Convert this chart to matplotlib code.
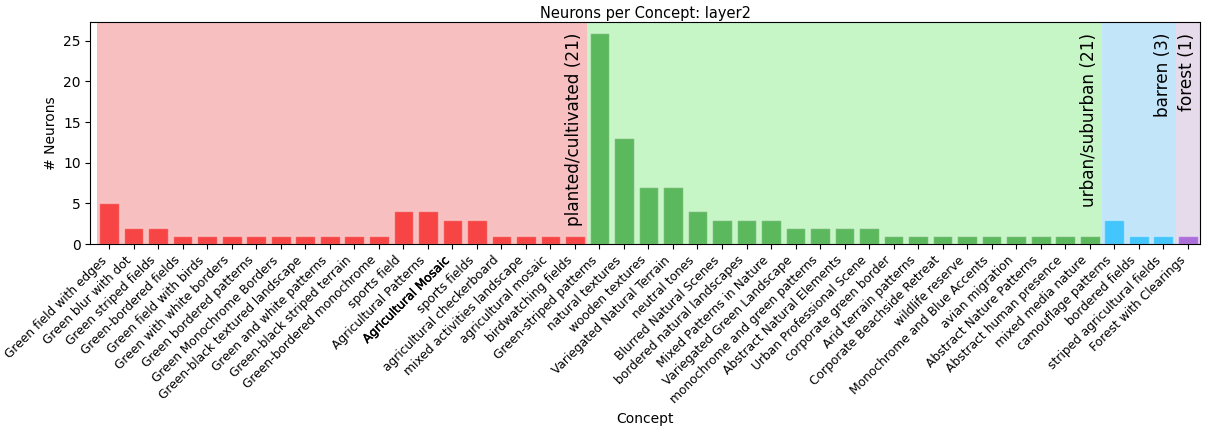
import matplotlib
matplotlib.use("Agg")
import matplotlib.pyplot as plt
import matplotlib.patheffects as pe

# concepts and neuron counts, grouped by category
planted_concepts = [
    "Green field with edges", "Green blur with dot", "Green striped fields",
    "Green-bordered fields", "Green field with birds", "Green with white borders",
    "Green bordered patterns", "Green Monochrome Borders", "Green-black textured landscape",
    "Green and white patterns", "Green-black striped terrain", "Green-bordered monochrome",
    "sports field", "Agricultural Patterns", "Agricultural Mosaic", "sports fields",
    "agricultural checkerboard", "mixed activities landscape", "agricultural mosaic",
    "birdwatching fields",
]
planted_counts = [5, 2, 2, 1, 1, 1, 1, 1, 1, 1, 1, 1, 4, 4, 3, 3, 1, 1, 1, 1]

urban_concepts = [
    "Green-striped patterns", "natural textures", "wooden textures",
    "Variegated Natural Terrain", "neutral tones", "Blurred Natural Scenes",
    "bordered natural landscapes", "Mixed Patterns in Nature", "Variegated Green Landscape",
    "monochrome and green patterns", "Abstract Natural Elements", "Urban Professional Scene",
    "corporate green border", "Arid terrain patterns", "Corporate Beachside Retreat",
    "wildlife reserve", "Monochrome and Blue Accents", "avian migration",
    "Abstract Nature Patterns", "Abstract human presence", "mixed media nature",
]
urban_counts = [26, 13, 7, 7, 4, 3, 3, 3, 2, 2, 2, 2, 1, 1, 1, 1, 1, 1, 1, 1, 1]

barren_concepts = ["camouflage patterns", "bordered fields", "striped agricultural fields"]
barren_counts = [3, 1, 1]

forest_concepts = ["Forest with Clearings"]
forest_counts = [1]

group_names = ["planted/cultivated (21)", "urban/suburban (21)", "barren (3)", "forest (1)"]
group_concepts = [planted_concepts, urban_concepts, barren_concepts, forest_concepts]
group_counts = [planted_counts, urban_counts, barren_counts, forest_counts]
bar_colors = ["#f74444", "#5cb85c", "#43c5fd", "#ac6fda"]
span_colors = ["#f7bfbf", "#c6f6c6", "#c2e5fa", "#e6dbea"]

fig = plt.figure(figsize=(12.05, 4.26), dpi=100)
ax = fig.add_axes([0.0751, 0.4272, 0.9208, 0.5212])

labels = []
start = 0
for name, concepts, counts, bc, sc in zip(group_names, group_concepts, group_counts,
                                           bar_colors, span_colors):
    xs = list(range(start, start + len(counts)))
    ax.axvspan(start - 0.5, start + len(counts) - 0.5, color=sc, lw=0, zorder=0)
    ax.bar(xs, counts, width=0.8, color=bc, edgecolor=(1, 1, 1, 0.35), linewidth=1, zorder=2)
    ax.text(start + len(counts) - 0.5 - 0.15, max(urban_counts), name, rotation=90,
            ha="right", va="top", fontsize=12.2, zorder=3)
    labels += concepts
    start += len(counts)

ax.set_xlim(-0.76, start - 0.5)
ax.set_ylim(0, max(urban_counts) * 1.05)
ax.set_xticks(range(len(labels)))
ax.set_xticklabels(labels, rotation=45, ha="right", fontsize=8.8)
ax.tick_params(axis="y", labelsize=10)

# this label shows up heavier in the original
for t in ax.get_xticklabels():
    if t.get_text() == "Agricultural Mosaic":
        t.set_path_effects([pe.withStroke(linewidth=0.3, foreground="black")])

ax.set_xlabel("Concept", fontsize=10)
ax.set_ylabel("# Neurons", fontsize=10)
ax.set_title("Neurons per Concept: layer2", fontsize=10.5, pad=3)

fig.savefig("out.png", dpi=100)
